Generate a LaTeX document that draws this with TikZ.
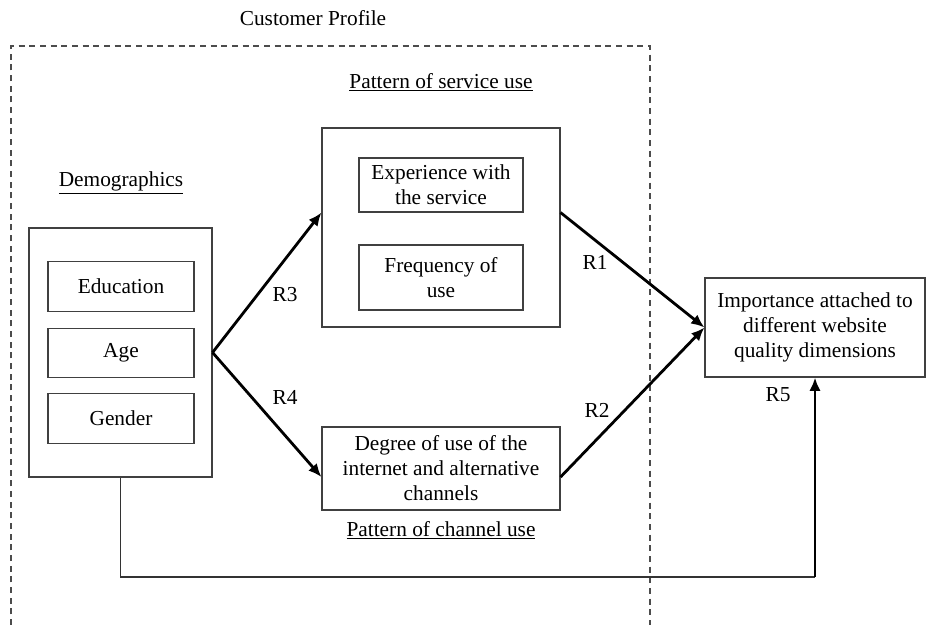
\documentclass[tikz,border=0pt]{standalone}
\usepackage{fontspec}
\setmainfont{Liberation Serif}
\usetikzlibrary{arrows.meta}

\begin{document}
\begin{tikzpicture}[x=0.75pt,y=-0.75pt,
  every node/.style={font=\fontsize{16}{18.75}\selectfont},
  box/.style={draw=black!75, line width=0.8pt, align=center, inner sep=0pt},
  link/.style={line width=2.1pt, -{Latex[length=10pt,width=8.5pt]}}]
  \useasboundingbox (0,0) rectangle (926,625);
  \draw[black!70, line width=0.8pt, dash pattern=on 4.5pt off 3.5pt] (11,625) -- (11,46) -- (650,46) -- (650,625);
  \node (cprofile) at (313,18) {Customer Profile};

  \node (svcuse) at (441,82) {\underline{Pattern of service use}};
  \node[box, minimum width=178.5pt, minimum height=149.25pt] (svcbox) at (441,227.5) {};
  \node[box, minimum width=123pt, minimum height=40.5pt] (exper) at (441,185) {Experience with\\the service};
  \node[box, minimum width=123pt, minimum height=48.75pt] (freq) at (441,277.5) {Frequency of\\use};

  \node (demolabel) at (121,183) {\underline{Demographics}};
  \node[box, minimum width=137.25pt, minimum height=186.75pt] (demobox) at (120.5,352.5) {};
  \node[box, minimum width=109.5pt, minimum height=37pt] (educ) at (121,286.5) {Education};
  \node[box, minimum width=109.5pt, minimum height=37pt] (age) at (121,353) {Age};
  \node[box, minimum width=109.5pt, minimum height=37pt] (gender) at (121,418.5) {Gender};

  \node[box, minimum width=178.5pt, minimum height=62.25pt] (degree) at (441,468.5) {Degree of use of the\\internet and alternative\\channels};
  \node (chanuse) at (441,530) {\underline{Pattern of channel use}};

  \node[box, minimum width=165pt, minimum height=74.25pt] (importance) at (815,327.5) {Importance attached to\\different website\\quality dimensions};

  \draw[link] (demobox.east) -- (exper.south -| svcbox.west);
  \draw[link] (demobox.east) -- ([yshift=-6.4pt]degree.west);
  \draw[link] (exper.south -| svcbox.east) -- (importance.west);
  \draw[link] ([yshift=-6.4pt]degree.east) -- (importance.west);

  \coordinate (corner) at (815,577);
  \draw[black!80, line width=0.8pt] (demobox.south) |- (corner);
  \draw[link] (corner) -- (importance.south);

  \node (r3) at (285,295) {R3};
  \node (r4) at (285,397) {R4};
  \node (r1) at (595,262) {R1};
  \node (r2) at (597,410) {R2};
  \node (r5) at (778,395) {R5};
\end{tikzpicture}
\end{document}
